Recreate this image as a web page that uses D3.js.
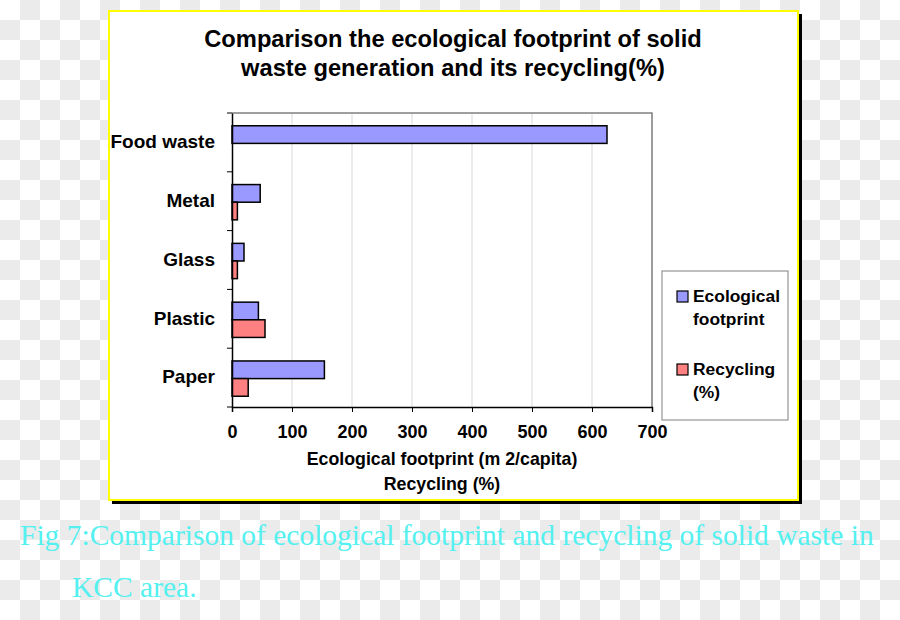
<!DOCTYPE html>
<html><head><meta charset="utf-8">
<script src="https://cdn.jsdelivr.net/npm/d3@7"></script>
<style>body{margin:0;}svg{display:block;}</style>
</head><body><svg id="c" width="900" height="620"></svg>
<script>
const categories = ["Food waste", "Metal", "Glass", "Plastic", "Paper"];
const footprint = [625, 47, 20, 44, 154];
const recycling = [0, 9, 9, 55, 27];
const seriesNames = ["Ecological footprint", "Recycling (%)"];
const xTicks = [0, 100, 200, 300, 400, 500, 600, 700];
const titleLines = ["Comparison the ecological footprint of solid", "waste generation and its recycling(%)"];
const axisTitleLines = ["Ecological footprint (m 2/capita)", "Recycling (%)"];
const captionLines = ["Fig 7:Comparison of ecological footprint and recycling of solid waste in", "KCC area."];

const svg = d3.select("#c");
const W = 900, H = 620;
// checkerboard background
const pat = svg.append("defs").append("pattern").attr("id","chk").attr("width",40).attr("height",40).attr("patternUnits","userSpaceOnUse");
pat.append("rect").attr("width",40).attr("height",40).attr("fill","#fff");
pat.append("rect").attr("x",20).attr("y",0).attr("width",20).attr("height",20).attr("fill","#ebebeb");
pat.append("rect").attr("x",0).attr("y",20).attr("width",20).attr("height",20).attr("fill","#ebebeb");
svg.append("rect").attr("width",W).attr("height",H).attr("fill","url(#chk)");

// frame with shadow
svg.append("rect").attr("x",112).attr("y",14).attr("width",690).attr("height",490).attr("fill","#000");
svg.append("rect").attr("x",109).attr("y",11).attr("width",689).attr("height",489).attr("fill","#fff").attr("stroke","#ffff00").attr("stroke-width",2);

const sans = "'Liberation Sans', Arial, sans-serif";
svg.append("g").selectAll("text").data(titleLines).join("text")
  .attr("x",453).attr("y",(d,i)=>47+i*29).attr("text-anchor","middle")
  .attr("font-family",sans).attr("font-weight","bold").attr("font-size",23.7).attr("fill","#000").text(d=>d);

const m = {l:232, r:652, t:113, b:407};
const x = d3.scaleLinear().domain([0,700]).range([m.l,m.r]);
const y = d3.scaleBand().domain(categories).range([m.t,m.b]);
const inner = d3.scaleBand().domain([0,1]).range([0,y.bandwidth()]).paddingOuter(0.667).paddingInner(0);

const g = svg.append("g");
// gridlines
g.selectAll("line.grid").data(xTicks.slice(1)).join("line")
  .attr("x1",d=>x(d)).attr("x2",d=>x(d)).attr("y1",m.t).attr("y2",m.b)
  .attr("stroke","#d9d9d9").attr("stroke-width",1);
// plot border top/right
g.append("path").attr("d",`M${m.l},${m.t}H${m.r}V${m.b}`).attr("fill","none").attr("stroke","#808080").attr("stroke-width",1.5);

const colors = ["#9999ff","#ff8080"];
const series = [footprint, recycling];
series.forEach((vals, si) => {
  g.append("g").selectAll("rect").data(categories.map((c,i)=>({c, v: vals[i]})).filter(d=>d.v>0)).join("rect")
    .attr("x", x(0)).attr("y", d=>y(d.c)+inner(si)+1)
    .attr("width", d=>x(d.v)-x(0)).attr("height", inner.bandwidth())
    .attr("fill", colors[si]).attr("stroke","#000").attr("stroke-width",1.5);
});

// axes
const xa = svg.append("g").attr("transform",`translate(0,${m.b})`)
  .call(d3.axisBottom(x).tickValues(xTicks).tickSize(5).tickPadding(13));
xa.select(".domain").attr("stroke","#000").attr("stroke-width",1.5);
xa.selectAll(".tick line").attr("stroke","#000");
xa.selectAll("text").attr("font-family",sans).attr("font-weight","bold").attr("font-size",18).attr("fill","#000");

const ya = svg.append("g").attr("transform",`translate(${m.l},0)`)
  .call(d3.axisLeft(y).tickSize(0).tickPadding(17));
ya.select(".domain").attr("stroke","#000").attr("stroke-width",1.5);
ya.selectAll("text").attr("font-family",sans).attr("font-weight","bold").attr("font-size",19).attr("fill","#000").attr("dy","0.3em");
// category boundary ticks
const bounds = categories.map(c=>y(c)).concat([m.b]);
ya.selectAll("line.bt").data(bounds).join("line").attr("x1",-5).attr("x2",0).attr("y1",d=>d).attr("y2",d=>d).attr("stroke","#000");

svg.append("g").selectAll("text").data(axisTitleLines).join("text")
  .attr("x",442).attr("y",(d,i)=>465+i*25).attr("text-anchor","middle")
  .attr("font-family",sans).attr("font-weight","bold").attr("font-size",17.8).attr("fill","#000").text(d=>d);

// legend
const lg = svg.append("g");
lg.append("rect").attr("x",662).attr("y",271).attr("width",126).attr("height",149).attr("fill","#fff").attr("stroke","#808080").attr("stroke-width",1);
const legLines = [["Ecological","footprint"],["Recycling","(%)"]];
seriesNames.forEach((s,i)=>{
  const yy = 291 + i*73;
  lg.append("rect").attr("x",677).attr("y",yy).attr("width",11).attr("height",11).attr("fill",colors[i]).attr("stroke","#000").attr("stroke-width",1.2);
  legLines[i].forEach((t,j)=>{
    lg.append("text").attr("x",693).attr("y",yy+11+j*23).attr("font-family",sans).attr("font-weight","bold").attr("font-size",17.4).attr("fill","#000").text(t);
  });
});

// caption
svg.append("g").selectAll("text").data(captionLines).join("text")
  .attr("x",(d,i)=>i===0?20:72).attr("y",(d,i)=>545+i*52)
  .attr("font-family","'Liberation Serif','Times New Roman',serif").attr("font-size",29.5).attr("fill","#55f0f0").text(d=>d);
</script></body></html>
